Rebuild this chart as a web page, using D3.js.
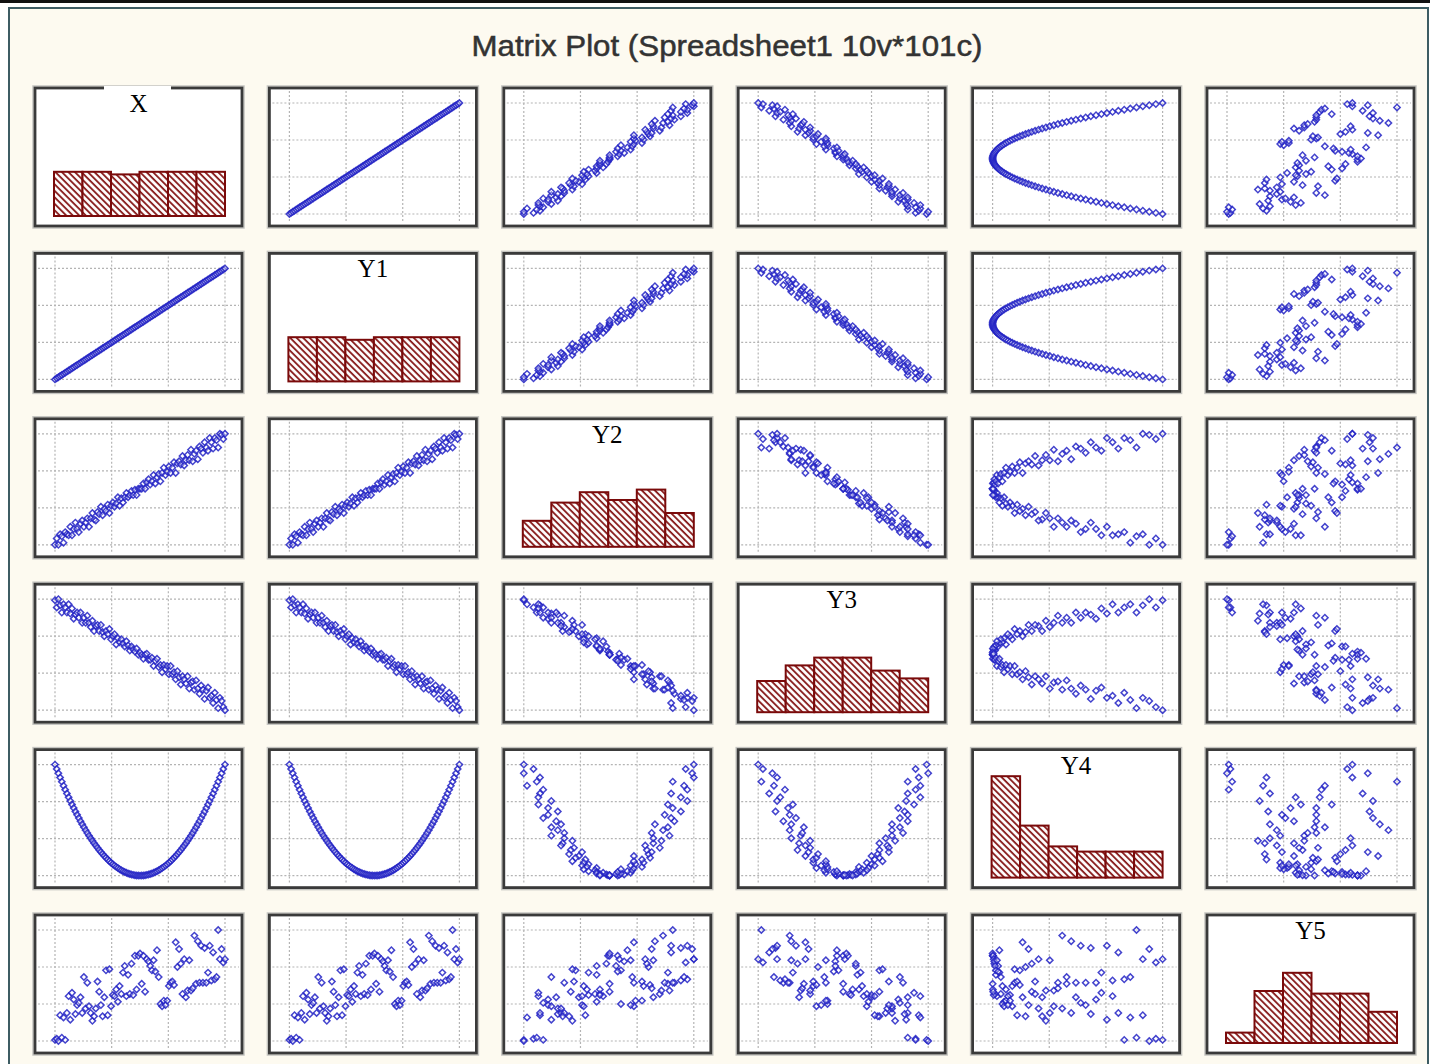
<!DOCTYPE html>
<html>
<head>
<meta charset="utf-8">
<script src="https://cdn.jsdelivr.net/npm/d3@7/dist/d3.min.js"></script>
<style>
  body { margin: 0; background: #fff; }
</style>
</head>
<body>
<div id="chart"></div>
<script>
var names = ["X", "Y1", "Y2", "Y3", "Y4", "Y5"];

var xVals = [-50,-49,-48,-47,-46,-45,-44,-43,-42,-41,-40,-39,-38,-37,-36,-35,-34,-33,-32,-31,
  -30,-29,-28,-27,-26,-25,-24,-23,-22,-21,-20,-19,-18,-17,-16,-15,-14,-13,-12,-11,
  -10,-9,-8,-7,-6,-5,-4,-3,-2,-1,0,1,2,3,4,5,6,7,8,9,10,11,12,13,14,15,16,17,18,19,
  20,21,22,23,24,25,26,27,28,29,30,31,32,33,34,35,36,37,38,39,40,41,42,43,44,45,46,47,48,49,50];

var y1Vals = [-50,-49,-48,-47,-46,-45,-44,-43,-42,-41,-40,-39,-38,-37,-36,-35,-34,-33,-32,-31,
  -30,-29,-28,-27,-26,-25,-24,-23,-22,-21,-20,-19,-18,-17,-16,-15,-14,-13,-12,-11,
  -10,-9,-8,-7,-6,-5,-4,-3,-2,-1,0,1,2,3,4,5,6,7,8,9,10,11,12,13,14,15,16,17,18,19,
  20,21,22,23,24,25,26,27,28,29,30,31,32,33,34,35,36,37,38,39,40,41,42,43,44,45,46,47,48,49,50];

var y2Vals = [-53,-47,-53,-43,-45,-51,-41,-43,-44,-36,-44,-38,-32,-38,-41,-33,-30,-36,-32,-28,
  -36,-28,-23,-29,-30,-22,-24,-17,-25,-19,-21,-15,-23,-16,-13,-17,-14,-8,-16,-9,
  -13,-8,-4,-8,-6,-2,-6,-1,-6,0,0,0,5,0,6,9,4,7,13,5,11,14,7,15,20,13,16,21,15,20,
  25,15,24,26,23,31,22,27,32,27,37,26,33,36,28,40,38,34,44,39,36,48,44,38,48,46,39,52,51,47,52];

var y3Vals = [52,45,53,47,40,48,45,40,48,39,44,34,38,40,35,40,30,35,30,37,
  30,26,32,22,27,28,22,28,21,17,22,19,24,14,17,19,9,15,11,14,
  10,7,12,8,3,7,4,2,5,-1,1,-1,-5,-1,0,-6,-6,-4,-12,-7,-5,-13,-11,-18,-11,-15,-12,-20,-12,-20,
  -18,-25,-17,-23,-30,-22,-25,-29,-22,-34,-28,-27,-35,-26,-34,-39,-31,-35,-44,-36,-33,-43,-41,-48,-38,-45,-53,-43,-46,-52,-55];

var y4Vals = [2500,2401,2304,2209,2116,2025,1936,1849,1764,1681,1600,1521,1444,1369,1296,1225,1156,1089,1024,961,
  900,841,784,729,676,625,576,529,484,441,400,361,324,289,256,225,196,169,144,121,
  100,81,64,49,36,25,16,9,4,1,0,1,4,9,16,25,36,49,64,81,100,121,144,169,196,225,256,289,324,361,
  400,441,484,529,576,625,676,729,784,841,900,961,1024,1089,1156,1225,1296,1369,1444,1521,1600,1681,1764,1849,1936,2025,2116,2209,2304,2401,2500];

var y5Vals = [2,3,1,24,4,22,2,26,41,20,44,38,25,33,35,40,26,58,30,53,
  32,26,19,23,30,54,45,33,23,40,64,24,65,32,42,41,47,36,50,43,
  62,68,41,60,43,70,42,77,47,77,79,52,77,45,74,72,68,64,73,63,
  82,58,34,32,37,33,37,50,53,54,51,89,67,83,70,43,74,40,46,73,
  46,48,95,52,90,53,86,53,84,53,62,86,55,80,56,58,100,74,83,71,74];

var series = [xVals, y1Vals, y2Vals, y3Vals, y4Vals, y5Vals];

// bar counts of the six-bin histograms on the diagonal
var histCounts = [
  [17, 17, 16, 17, 17, 17],
  [17, 17, 16, 17, 17, 17],
  [10, 17, 21, 18, 22, 13],
  [12, 18, 21, 21, 16, 13],
  [39, 20, 12, 10, 10, 10],
  [4, 20, 27, 19, 19, 12]
];

var width = 1430, height = 1064,
    panelW = 207, panelH = 138;

var colX = d3.scaleLinear().domain([0, 5]).range([35, 1207]);
var rowY = d3.scaleLinear().domain([0, 5]).range([88, 915]);

var svg = d3.select("#chart").append("svg")
    .attr("width", width)
    .attr("height", height);

var defs = svg.append("defs");
defs.append("pattern")
    .attr("id", "hatch")
    .attr("patternUnits", "userSpaceOnUse")
    .attr("width", 4.6)
    .attr("height", 4.6)
    .attr("patternTransform", "rotate(-45)")
  .call(function(p) {
    p.append("rect").attr("width", 4.6).attr("height", 4.6).attr("fill", "#fff");
    p.append("line")
        .attr("x1", 1).attr("y1", 0).attr("x2", 1).attr("y2", 4.6)
        .attr("stroke", "#861818")
        .attr("stroke-width", 1.8);
  });

// page background and outer frame
svg.append("rect")
    .attr("width", width).attr("height", height)
    .attr("fill", "#fff");
svg.append("rect")
    .attr("x", 9).attr("y", 8)
    .attr("width", 1419).attr("height", 1070)
    .attr("fill", "#fdfaf0")
    .attr("stroke", "#3d5c63")
    .attr("stroke-width", 2);
svg.append("rect")
    .attr("width", width).attr("height", 3)
    .attr("fill", "#111");

svg.append("text")
    .attr("x", 727)
    .attr("y", 56)
    .attr("text-anchor", "middle")
    .attr("font-family", "Liberation Sans, Arial, sans-serif")
    .attr("font-size", 29)
    .attr("fill", "#333")
    .attr("stroke", "#333")
    .attr("stroke-width", 0.5)
    .attr("textLength", 511)
    .attr("lengthAdjust", "spacingAndGlyphs")
    .text("Matrix Plot (Spreadsheet1 10v*101c)");

var marker = d3.symbol().type(d3.symbolSquare).size(20);

names.forEach(function(rowName, r) {
  names.forEach(function(colName, c) {
    var g = svg.append("g")
        .attr("transform", "translate(" + colX(c) + "," + rowY(r) + ")");

    g.append("rect")
        .attr("x", -2).attr("y", -2)
        .attr("width", panelW + 4).attr("height", panelH + 4)
        .attr("fill", "none")
        .attr("stroke", "#c4c4c0")
        .attr("stroke-width", 1.5);

    g.append("rect")
        .attr("width", panelW).attr("height", panelH)
        .attr("fill", "#fff");

    if (r === c) {
      var xh = d3.scaleBand()
          .domain(d3.range(6))
          .range([19, 190]);
      var yh = d3.scaleLinear()
          .domain([0, 40])
          .range([panelH - 10, panelH - 114]);

      g.selectAll(".bar")
          .data(histCounts[r])
        .enter().append("rect")
          .attr("class", "bar")
          .attr("x", function(d, i) { return xh(i); })
          .attr("y", function(d) { return yh(d); })
          .attr("width", xh.bandwidth())
          .attr("height", function(d) { return yh(0) - yh(d); })
          .attr("fill", "url(#hatch)")
          .attr("stroke", "#7a0a0a")
          .attr("stroke-width", 2);
    } else {
      var sx = d3.scaleLinear()
          .domain(d3.extent(series[c]))
          .range([20, 190]);
      var sy = d3.scaleLinear()
          .domain(d3.extent(series[r]))
          .range([126, 15]);

      var gx = [0, 1, 2, 3].map(function(k) {
        var d = sx.domain(); return d[0] + k * (d[1] - d[0]) / 3;
      });
      var gy = [0, 1, 2, 3].map(function(k) {
        var d = sy.domain(); return d[0] + k * (d[1] - d[0]) / 3;
      });

      var grid = g.append("g")
          .attr("stroke", "#b4b4b4")
          .attr("stroke-width", 1.2)
          .attr("stroke-dasharray", "2,2");
      grid.selectAll(".vg")
          .data(gx)
        .enter().append("line")
          .attr("x1", sx).attr("x2", sx)
          .attr("y1", 3).attr("y2", panelH - 3);
      grid.selectAll(".hg")
          .data(gy)
        .enter().append("line")
          .attr("y1", sy).attr("y2", sy)
          .attr("x1", 3).attr("x2", panelW - 3);

      g.selectAll(".dot")
          .data(d3.range(series[c].length))
        .enter().append("path")
          .attr("class", "dot")
          .attr("d", marker)
          .attr("transform", function(i) {
            return "translate(" + sx(series[c][i]) + "," + sy(series[r][i]) + ") rotate(45)";
          })
          .attr("fill", "#fff")
          .attr("fill-opacity", 0.35)
          .attr("stroke", "#2222c4")
          .attr("stroke-opacity", 0.85)
          .attr("stroke-width", 1.5);
    }

    g.append("rect")
        .attr("width", panelW).attr("height", panelH)
        .attr("fill", "none")
        .attr("stroke", "#3a3a3a")
        .attr("stroke-width", 2.8);

    if (r === c) {
      if (r === 0) {
        g.append("rect")
            .attr("x", 69).attr("y", -2)
            .attr("width", 67).attr("height", 6)
            .attr("fill", "#fff");
      }
      g.append("text")
          .attr("x", panelW / 2)
          .attr("y", 24)
          .attr("text-anchor", "middle")
          .attr("font-family", "Liberation Serif, Times New Roman, serif")
          .attr("font-size", 25)
          .attr("fill", "#000")
          .text(rowName);
    }
  });
});
</script>
</body>
</html>
